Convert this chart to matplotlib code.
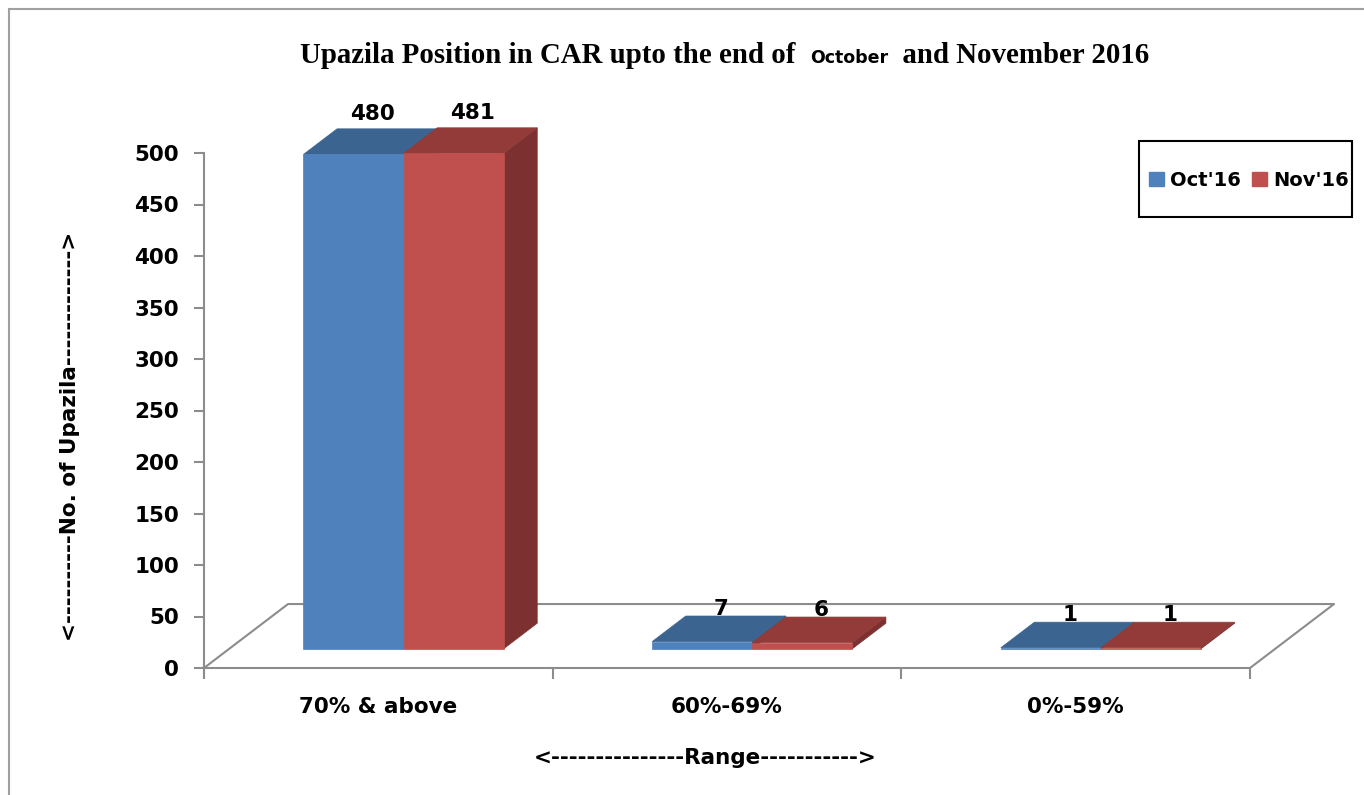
import matplotlib.pyplot as plt
from matplotlib.patches import Polygon, Rectangle, Patch
from matplotlib.lines import Line2D

categories = ["70% & above", "60%-69%", "0%-59%"]
series_names = ["Oct'16", "Nov'16"]
oct_values = [480, 7, 1]
nov_values = [481, 6, 1]
y_ticks = [0, 50, 100, 150, 200, 250, 300, 350, 400, 450, 500]

front_colors = ["#4F81BD", "#C0504D"]
top_colors = ["#3C6490", "#923B39"]
side_colors = ["#2F4F73", "#7C3130"]
grid_gray = "#8C8C8C"
sans = ["DejaVu Sans"]
serif = ["Liberation Serif", "DejaVu Serif"]
FS = 15.5

# depth of the 3d floor in data units (x in categories, y in values)
DX, DY = 0.241, 62.1
D_FRONT, D_BACK = 0.3, 0.7
BAR_W = 0.287
GAP = 0.213

fig = plt.figure(figsize=(13.64, 7.95), dpi=100)
ax = fig.add_axes([204 / 1364, 127 / 795, 1046 / 1364, 515 / 795])
ax.set_xlim(0, len(categories))
ax.set_ylim(0, 500)

# outer frame of the chart area
fig.patches.append(Rectangle((9 / 1364, -0.02), 1.1, 1 - 9 / 795 + 0.02,
                             transform=fig.transFigure, fill=False,
                             edgecolor="#A0A0A0", lw=1.5))

# floor outline
floor = Line2D([0, DX, len(categories) + DX, len(categories)], [0, DY, DY, 0],
               color=grid_gray, lw=1.5, clip_on=False, zorder=1)
ax.add_line(floor)

series = [oct_values, nov_values]
for i in range(len(categories)):
    for j, vals in enumerate(series):
        v = vals[i]
        x0 = i + GAP + j * BAR_W
        fx, fy = DX * D_FRONT, DY * D_FRONT
        bx, by = DX * D_BACK, DY * D_BACK
        front = [(x0 + fx, fy), (x0 + BAR_W + fx, fy),
                 (x0 + BAR_W + fx, v + fy), (x0 + fx, v + fy)]
        top = [(x0 + fx, v + fy), (x0 + BAR_W + fx, v + fy),
               (x0 + BAR_W + bx, v + by), (x0 + bx, v + by)]
        side = [(x0 + BAR_W + fx, fy), (x0 + BAR_W + bx, by),
                (x0 + BAR_W + bx, v + by), (x0 + BAR_W + fx, v + fy)]
        for pts, c in [(side, side_colors[j]), (top, top_colors[j]), (front, front_colors[j])]:
            ax.add_patch(Polygon(pts, closed=True, facecolor=c, edgecolor=c,
                                 lw=0.5, clip_on=False, zorder=3 + j))
        lx = x0 + fx + BAR_W / 2 + 0.055
        ly = v + by + (14 if v > 100 else 7)
        ax.text(lx, ly, str(v), ha="center", va="center", fontsize=FS,
                fontweight="bold", family=sans, zorder=6)

for s in ["top", "right"]:
    ax.spines[s].set_visible(False)
for s in ["left", "bottom"]:
    ax.spines[s].set_color(grid_gray)
    ax.spines[s].set_linewidth(1.5)

ax.set_yticks(y_ticks)
ax.set_yticklabels([str(t) for t in y_ticks], fontsize=FS, fontweight="bold", family=sans)
ax.tick_params(axis="y", length=7, width=1.5, color=grid_gray, pad=11)
ax.set_xticks(range(len(categories) + 1))
ax.set_xticklabels([])
ax.tick_params(axis="x", length=8, width=1.5, color=grid_gray)
ax.set_xticks([i + 0.5 for i in range(len(categories))], minor=True)
ax.set_xticklabels(categories, minor=True, fontsize=FS, fontweight="bold", family=sans)
ax.tick_params(axis="x", which="minor", length=0, pad=21)

ax.set_ylabel("<----------No. of Upazila------------->", fontsize=FS,
              fontweight="bold", family=sans)
ax.yaxis.set_label_coords(-0.1186, 0.449)
ax.set_xlabel("<---------------Range----------->", fontsize=FS,
              fontweight="bold", family=sans)
ax.xaxis.set_label_coords(0.479, -0.155)

# title in mixed fonts, pieces chained on a common baseline
t1 = fig.text(300 / 1364, 1 - 63 / 795, "Upazila Position in CAR upto the end of  ",
              fontsize=20.8, fontweight="bold", family=serif, va="baseline")
t2 = ax.annotate("October", xy=(1, 0), xycoords=t1, xytext=(0, 4.5),
                 textcoords="offset points", va="baseline",
                 fontsize=12.5, fontweight="bold", family=sans)
t3 = ax.annotate("  and November 2016", xy=(1, 0), xycoords=t2, xytext=(0, 2.9),
                 textcoords="offset points", va="baseline",
                 fontsize=20.8, fontweight="bold", family=serif)

# legend with its own box
fig.patches.append(Rectangle((1139 / 1364, 1 - 217 / 795), 213 / 1364, 76 / 795,
                             transform=fig.transFigure, fill=False,
                             edgecolor="black", lw=1.5))
handles = [Patch(facecolor=c, edgecolor=c) for c in front_colors]
fig.legend(handles, series_names, loc="center",
           bbox_to_anchor=(1249 / 1364, 1 - 180 / 795), ncol=2, frameon=False,
           prop={"family": sans, "weight": "bold", "size": 14},
           handlelength=0.75, handleheight=0.75, handletextpad=0.3, columnspacing=0.6)

fig.savefig("out.png", dpi=100)
